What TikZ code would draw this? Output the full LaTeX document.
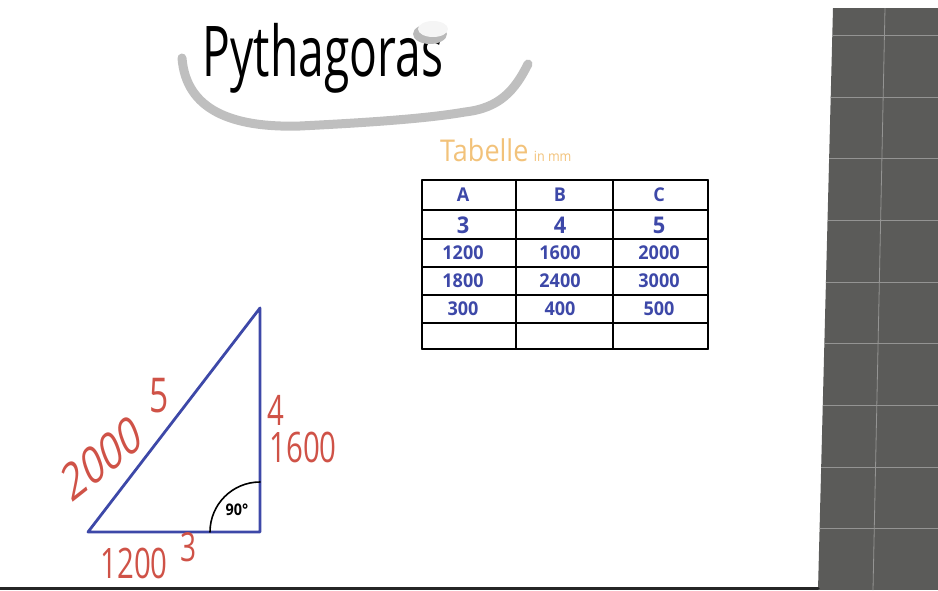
\documentclass[tikz,border=0pt]{standalone}
\usepackage{fontspec}
\newfontfamily\hand{Open Sans}
\usetikzlibrary{calc,positioning}
\definecolor{penblue}{HTML}{3D48A8}
\definecolor{penred}{HTML}{CF5247}
\definecolor{penyellow}{HTML}{F2C27A}
\definecolor{board}{HTML}{5B5B59}
\tikzset{every picture/.style={
  line join=round,              % Marker-like joins.
  line cap=round
  }
}

\begin{document}
\begin{tikzpicture}[
        x=1pt, y=-1pt,
        hw/.style={transform shape, xscale=#1, inner sep=0pt},
        hw/.default=0.75,
        title/.style={hw=0.66, font=\hand\fontsize{70}{70}\selectfont},
        cell/.style={penblue, hw=0.95, font=\hand\bfseries\fontsize{19}{19}\selectfont},
        bigcell/.style={cell, font=\hand\bfseries\fontsize{23}{23}\selectfont},
        side/.style={penred, hw=0.7, font=\hand\fontsize{#1}{#1}\selectfont},
        grid/.style={black, line width=1.6pt},
        strip/.style={line width=9pt, color=gray!50}
      ]
        \useasboundingbox (0,0) rectangle (938,590);

        % Dark board on the right.
        \begin{scope}
          \clip (833,8) -- (938,8) -- (938,590) -- (818,590) -- cycle;
          \fill[board] (810,0) rectangle (938,590);
          \foreach \y in {35,97,158,220,282,343,405,467,528}
            \draw[white!35!board, line width=0.8pt] (810,\y) -- (938,\y);
          \draw[white!35!board, line width=0.8pt] (885,8) -- (873,590);
        \end{scope}
        \draw[black!85, line width=3pt] (0,588) -- (818,588);

        % Title with magnet strip.
        \draw[strip] (182,58) .. controls (186,110) and (232,128) .. (300,126)
          .. controls (380,122) and (430,118) .. (465,112)
          .. controls (500,108) and (515,90) .. (528,64);
        \node[title] (title) at (323,58) {Pythagoras};
        \fill[gray!55] (430,34) ellipse[x radius=17pt, y radius=10pt];
        \fill[gray!8] (433,29) ellipse[x radius=15pt, y radius=8pt];

        % Table of side lengths.
        \node[penyellow, hw=0.9, font=\hand\fontsize{30}{30}\selectfont,
          anchor=base west] (tab) at (440,161) {Tabelle};
        \node[penyellow, hw=0.9, font=\hand\fontsize{14}{14}\selectfont,
          right=5pt of tab.base east, anchor=base west] (unit) {in mm};
        \foreach \y in {180,210,239,267,295,323,349}
          \draw[grid] (422,\y) -- (708,\y);
        \foreach \x in {422,516,613,708}
          \draw[grid] (\x,180) -- (\x,349);
        \foreach \r/\y/\a/\b/\c in {1/195/A/B/C,
                                    3/253/1200/1600/2000,
                                    4/281/1800/2400/3000,
                                    5/309/300/400/500} {
          \node[cell] (t-\r-a) at (463,\y) {\a};
          \node[cell] (t-\r-b) at (560,\y) {\b};
          \node[cell] (t-\r-c) at (659,\y) {\c};
        }
        \node[bigcell] (t-2-a) at (463,225) {3};
        \node[bigcell] (t-2-b) at (560,225) {4};
        \node[bigcell] (t-2-c) at (659,225) {5};

        % Right triangle.
        \coordinate (bl) at (88,532);
        \coordinate (br) at (260,532);
        \coordinate (tp) at (260,308);
        \draw[penblue, line width=2.8pt] (bl) -- (br) -- (tp) -- cycle;
        \draw[black, line width=1.6pt] ($(br)+(-50,0)$)
          arc[start angle=180, end angle=90, radius=50pt];
        \node[hw=0.9, font=\hand\bfseries\fontsize{16}{16}\selectfont]
          (angle) at (237,510) {90°};

        % Side labels.
        \node[side=48] (hyp) at (159,396) {5};
        \node[side=52, rotate=29] (hypmm) at (102,458) {2000};
        \node[side=42] (leg) at (276,410) {4};
        \node[side=42] (legmm) at (303,447) {1600};
        \node[side=40] (base) at (189,547) {3};
        \node[side=42] (basemm) at (134,563) {1200};
      \end{tikzpicture}
\end{document}
